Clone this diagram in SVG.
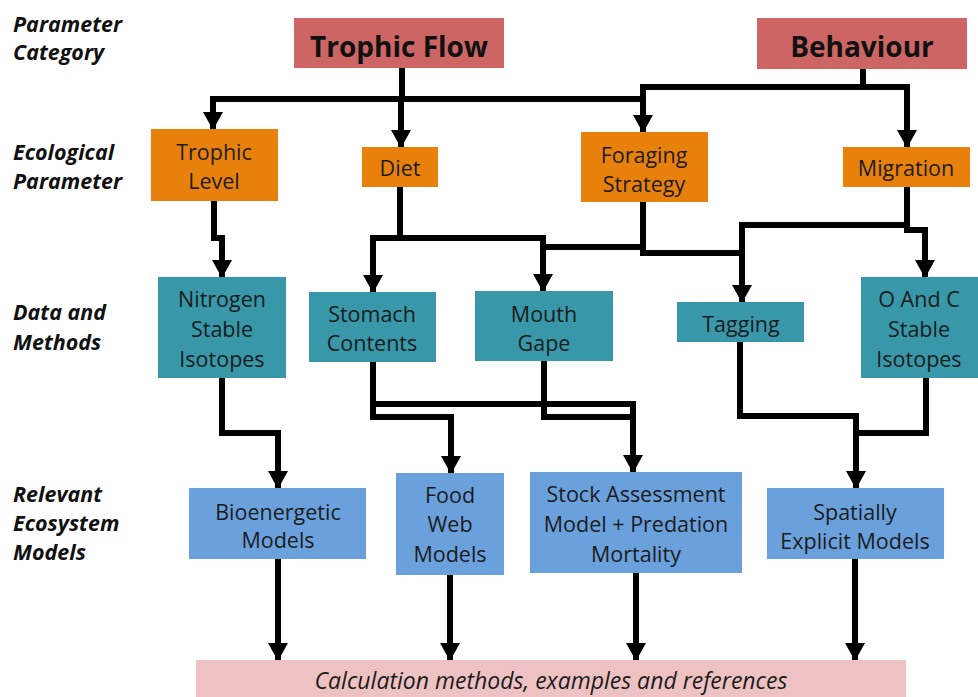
<svg xmlns="http://www.w3.org/2000/svg" width="978" height="697" viewBox="0 0 978 697">
<style>
.lbl{font-family:"Open Sans","Liberation Sans",sans-serif;font-size:21.5px;font-weight:bold;font-style:italic;fill:#111}
.t{font-family:"Open Sans","Liberation Sans",sans-serif;font-size:21.5px;fill:#1c1c1c;text-anchor:middle}
.tt{font-family:"Open Sans","Liberation Sans",sans-serif;font-size:28px;font-weight:bold;fill:#111;text-anchor:middle}
.cat{fill:#cd6565}
.eco{fill:#e8810c}
.dat{fill:#3897a8}
.mod{fill:#6aa0dc}
.c{fill:none;stroke:#000;stroke-width:6;stroke-linejoin:miter}
.a{marker-end:url(#ah)}
</style>
<defs>
<marker id="ah" markerUnits="userSpaceOnUse" markerWidth="18" markerHeight="20" viewBox="0 0 18 20" refX="17" refY="10" orient="auto">
<path d="M0 0 L18 10 L0 20 Z" fill="#000"/>
</marker>
</defs>
<rect width="978" height="697" fill="#fff"/>
<g id="row-labels">
<text class="lbl" x="13" y="32">Parameter</text>
<text class="lbl" x="13" y="60">Category</text>
<text class="lbl" x="13" y="160">Ecological</text>
<text class="lbl" x="13" y="189">Parameter</text>
<text class="lbl" x="13" y="320">Data and</text>
<text class="lbl" x="13" y="350">Methods</text>
<text class="lbl" x="13" y="502">Relevant</text>
<text class="lbl" x="13" y="531">Ecosystem</text>
<text class="lbl" x="13" y="560">Models</text>
</g>
<g id="connectors">
<path class="c" d="M402 68 V99"/>
<path class="c a" d="M402 99 H213 V129"/>
<path class="c a" d="M401 99 V147"/>
<path class="c" d="M402 99 H643"/>
<path class="c" d="M863 69 V87"/>
<path class="c a" d="M863 87 H643 V132"/>
<path class="c a" d="M863 87 H907 V147"/>
<path class="c a" d="M214 201 V238 H222 V277"/>
<path class="c" d="M400 187 V238"/>
<path class="c a" d="M400 238 H373 V292"/>
<path class="c a" d="M400 238 H543 V291"/>
<path class="c" d="M543 247 H643"/>
<path class="c" d="M643 202 V253 H742"/>
<path class="c a" d="M907 187 V225 H742 V302"/>
<path class="c a" d="M907 225 V230 H925 V277"/>
<path class="c a" d="M222 378 V433 H278 V488"/>
<path class="c a" d="M373 362 V404 H633 V472"/>
<path class="c a" d="M373 362 V417 H451 V473"/>
<path class="c" d="M544 361 V417 H633"/>
<path class="c a" d="M740 342 V416 H856 V488"/>
<path class="c" d="M926 378 V433 H856"/>
<path class="c a" d="M278 559 V660"/>
<path class="c a" d="M450 575 V660"/>
<path class="c a" d="M636 573 V660"/>
<path class="c a" d="M855 559 V660"/>
</g>
<g id="trophic-flow"><rect class="cat" x="294" y="18" width="210" height="50"/><text class="tt" x="399" y="57">Trophic Flow</text></g>
<g id="behaviour"><rect class="cat" x="757" y="18" width="210" height="51"/><text class="tt" x="862" y="57">Behaviour</text></g>
<g id="trophic-level"><rect class="eco" x="151" y="129" width="127" height="72"/><text class="t" x="214" y="160">Trophic</text><text class="t" x="214" y="189">Level</text></g>
<g id="diet"><rect class="eco" x="362" y="147" width="76" height="40"/><text class="t" x="400" y="176">Diet</text></g>
<g id="foraging-strategy"><rect class="eco" x="581" y="132" width="127" height="70"/><text class="t" x="644" y="163">Foraging</text><text class="t" x="644" y="192">Strategy</text></g>
<g id="migration"><rect class="eco" x="843" y="147" width="127" height="40"/><text class="t" x="906" y="176">Migration</text></g>
<g id="nitrogen"><rect class="dat" x="158" y="277" width="128" height="101"/><text class="t" x="222" y="307">Nitrogen</text><text class="t" x="222" y="337">Stable</text><text class="t" x="222" y="367">Isotopes</text></g>
<g id="stomach"><rect class="dat" x="309" y="292" width="127" height="70"/><text class="t" x="372" y="322">Stomach</text><text class="t" x="372" y="351">Contents</text></g>
<g id="mouth-gape"><rect class="dat" x="475" y="291" width="138" height="70"/><text class="t" x="544" y="322">Mouth</text><text class="t" x="544" y="351">Gape</text></g>
<g id="tagging"><rect class="dat" x="677" y="302" width="127" height="40"/><text class="t" x="741" y="332">Tagging</text></g>
<g id="o-and-c"><rect class="dat" x="861" y="277" width="117" height="101"/><text class="t" x="919" y="307">O And C</text><text class="t" x="919" y="337">Stable</text><text class="t" x="919" y="367">Isotopes</text></g>
<g id="bioenergetic"><rect class="mod" x="189" y="488" width="177" height="71"/><text class="t" x="278" y="520">Bioenergetic</text><text class="t" x="278" y="548">Models</text></g>
<g id="food-web"><rect class="mod" x="396" y="473" width="108" height="102"/><text class="t" x="450" y="503">Food</text><text class="t" x="450" y="532">Web</text><text class="t" x="450" y="562">Models</text></g>
<g id="stock-assessment"><rect class="mod" x="530" y="472" width="212" height="101"/><text class="t" x="636" y="502">Stock Assessment</text><text class="t" x="636" y="532">Model + Predation</text><text class="t" x="636" y="562">Mortality</text></g>
<g id="spatially"><rect class="mod" x="767" y="488" width="177" height="71"/><text class="t" x="855" y="520">Spatially</text><text class="t" x="855" y="549">Explicit Models</text></g>
<g id="calculation"><rect x="196" y="660" width="710" height="40" fill="#eec2c2"/><text class="t" x="551" y="689" style="font-style:italic;font-size:23px">Calculation methods, examples and references</text></g>
</svg>
